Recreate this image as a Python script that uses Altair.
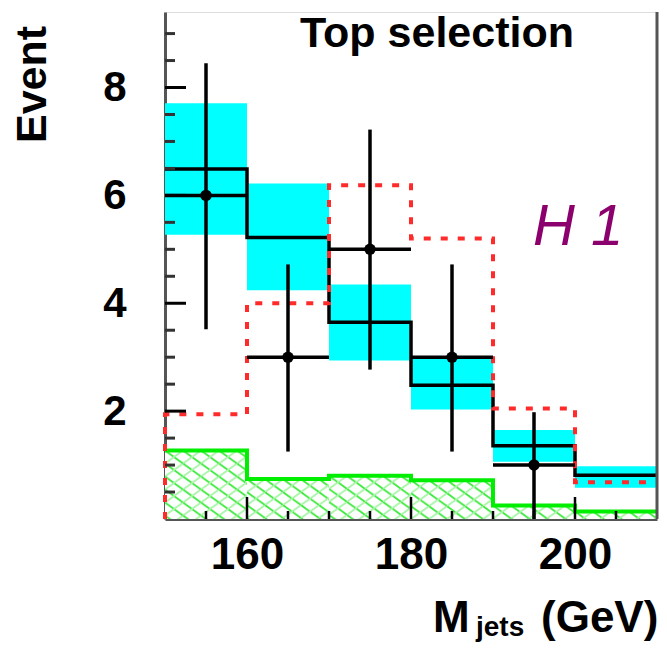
import base64
import altair as alt
import pandas as pd

# ---- data ----
edges = [150, 160, 170, 180, 190, 200, 210]
mc_total = [6.49, 5.22, 3.65, 2.48, 1.36, 0.81]      # black step (total MC)
band_lo = [5.27, 4.24, 2.94, 2.03, 1.06, 0.58]       # cyan uncertainty band
band_hi = [7.71, 6.22, 4.35, 2.99, 1.65, 0.98]
signal = [1.94, 4.00, 6.19, 5.20, 2.05, 0.68]        # red dashed step
other = [1.27, 0.74, 0.80, 0.72, 0.25, 0.14]         # green hatched step
data_x = [155, 165, 175, 185, 195]
data_lo_edge = [150, 160, 170, 180, 190]
data_hi_edge = [160, 170, 180, 190, 200]
data_n = [6, 3, 5, 3, 1]
data_err_hi = [8.45, 4.72, 7.22, 4.72, 1.98]
data_err_lo = [3.52, 1.25, 2.77, 1.25, 0.00]

y_major = [2, 4, 6, 8]
y_minor = [0.5, 1, 1.5, 2.5, 3, 3.5, 4.5, 5, 5.5, 6.5, 7, 7.5, 8.5, 9]
x_major = [160, 180, 200]
x_minor = [155, 165, 170, 175, 185, 190, 195, 205]

W, H = 492, 507
FONT = "Liberation Sans"

xs = alt.Scale(domain=[150, 210], nice=False, zero=False)
ys = alt.Scale(domain=[0, 9.4], nice=False, zero=True)

# cross-hatch pattern used as the fill of the green histogram
hatch_svg = (
    "<svg xmlns='http://www.w3.org/2000/svg' width='100%' height='100%'>"
    "<defs><pattern id='h' width='18' height='13' patternUnits='userSpaceOnUse'>"
    "<path d='M-2,-1.44 L20,14.44' stroke='#3FEA3F' stroke-width='1.8'/>"
    "<path d='M-2,14.44 L20,-1.44' stroke='#A8F5A8' stroke-width='1.8'/>"
    "</pattern></defs>"
    "<rect width='100%' height='100%' fill='white'/>"
    "<rect width='100%' height='100%' fill='url(#h)'/></svg>"
)
hatch_url = "data:image/svg+xml;base64," + base64.b64encode(hatch_svg.encode()).decode()


def step_df(vals, start_zero=False):
    xx = list(edges)
    yy = list(vals) + [vals[-1]]
    if start_zero:
        xx = [edges[0]] + xx
        yy = [0] + yy
    return pd.DataFrame({"x": xx, "y": yy})


bins = pd.DataFrame({"x": edges[:-1], "x2": edges[1:], "lo": band_lo, "hi": band_hi})
green_bins = pd.DataFrame({"x": edges[:-1], "x2": edges[1:], "lo": [0] * len(other),
                           "hi": other, "url": [hatch_url] * len(other)})
pts = pd.DataFrame({"x": data_x, "xl": data_lo_edge, "xh": data_hi_edge,
                    "n": data_n, "lo": data_err_lo, "hi": data_err_hi})

xaxis = alt.Axis(values=x_major, title=None, grid=False, ticks=False, tickSize=0,
                 labelFontSize=44, labelFont=FONT, labelFontWeight="bold",
                 labelColor="black", labelPadding=14, domainColor="#555",
                 domainWidth=3)
yaxis = alt.Axis(values=y_major, title=None, grid=False, ticks=False, tickSize=0,
                 labelFontSize=42, labelFont=FONT, labelFontWeight="bold",
                 labelColor="black", labelPadding=39, domainColor="#555",
                 domainWidth=3)

band = alt.Chart(bins).mark_rect(color="#00FFFF").encode(
    x=alt.X("x:Q", scale=xs, axis=xaxis), x2="x2:Q",
    y=alt.Y("lo:Q", scale=ys, axis=yaxis), y2="hi:Q")

green_fill = alt.Chart(green_bins).mark_image(aspect=False).encode(
    x=alt.X("x:Q", scale=xs), x2="x2:Q",
    y=alt.Y("lo:Q", scale=ys), y2="hi:Q", url="url:N")
green_line = alt.Chart(step_df(other)).mark_line(
    interpolate="step-after", color="#00EE00", strokeWidth=4).encode(
    x=alt.X("x:Q", scale=xs), y=alt.Y("y:Q", scale=ys))

mc_line = alt.Chart(step_df(mc_total)).mark_line(
    interpolate="step-after", color="black", strokeWidth=3.5).encode(
    x=alt.X("x:Q", scale=xs), y=alt.Y("y:Q", scale=ys))

red_line = alt.Chart(step_df(signal, True)).mark_line(
    interpolate="step-after", color="#FF2A2A", strokeWidth=4,
    strokeDash=[7, 10]).encode(
    x=alt.X("x:Q", scale=xs), y=alt.Y("y:Q", scale=ys))

vbar = alt.Chart(pts).mark_rule(color="black", strokeWidth=3.5).encode(
    x=alt.X("x:Q", scale=xs), y=alt.Y("lo:Q", scale=ys), y2="hi:Q")
hbar = alt.Chart(pts).mark_rule(color="black", strokeWidth=3.5).encode(
    x=alt.X("xl:Q", scale=xs), x2="xh:Q", y=alt.Y("n:Q", scale=ys))
dots = alt.Chart(pts).mark_point(filled=True, color="black", size=130,
                                 opacity=1, shape="circle").encode(
    x=alt.X("x:Q", scale=xs), y=alt.Y("n:Q", scale=ys))

# inward ticks
ymaj = alt.Chart(pd.DataFrame({"v": y_major})).mark_rule(color="black", strokeWidth=3).encode(
    y=alt.Y("v:Q", scale=ys), x=alt.value(0), x2=alt.value(21))
ymin = alt.Chart(pd.DataFrame({"v": y_minor})).mark_rule(color="#333", strokeWidth=3).encode(
    y=alt.Y("v:Q", scale=ys), x=alt.value(0), x2=alt.value(10))
xmaj = alt.Chart(pd.DataFrame({"v": x_major})).mark_rule(color="black", strokeWidth=2.5).encode(
    x=alt.X("v:Q", scale=xs), y=alt.value(H), y2=alt.value(H - 22))
xmin = alt.Chart(pd.DataFrame({"v": x_minor})).mark_rule(color="black", strokeWidth=2.5).encode(
    x=alt.X("v:Q", scale=xs), y=alt.value(H), y2=alt.value(H - 8))

right_frame = alt.Chart(pd.DataFrame({"a": [0]})).mark_rule(color="#555", strokeWidth=3).encode(
    x=alt.value(W), y=alt.value(0), y2=alt.value(H))


def label(txt, x, y, size, **kw):
    return alt.Chart(pd.DataFrame({"t": [txt]})).mark_text(
        font=FONT, fontSize=size, **kw).encode(
        text="t:N", x=alt.value(x), y=alt.value(y))


title = label("Top selection", 272, 35, 43, fontWeight="bold", align="center",
              baseline="alphabetic", color="black")
h1 = label("H 1", 368, 233, 58, fontStyle="italic", align="left",
           baseline="alphabetic", color="#8C006E")
ytitle = label("Event", -119, 131, 43, fontWeight="bold", align="left",
               baseline="alphabetic", angle=270, color="black")
xt_m = label("M", 268, 620, 44, fontWeight="bold", align="left",
             baseline="alphabetic", color="black")
xt_sub = label("jets", 311, 624, 28, fontWeight="bold", align="left",
               baseline="alphabetic", color="black")
xt_gev = label("(GeV)", 376, 620, 44, fontWeight="bold", align="left",
               baseline="alphabetic", color="black")

chart = alt.layer(
    band, green_fill, green_line, mc_line, red_line,
    vbar, hbar, dots, ymaj, ymin, xmaj, xmin, right_frame,
    title, h1, ytitle, xt_m, xt_sub, xt_gev
).properties(
    width=W, height=H,
    autosize=alt.AutoSizeParams(type="none"),
    padding={"left": 157, "top": 4, "right": 2, "bottom": 124},
).configure_view(stroke=None).configure(background="white")

chart.save("out.html", embed_options={"renderer": "svg", "actions": False})
